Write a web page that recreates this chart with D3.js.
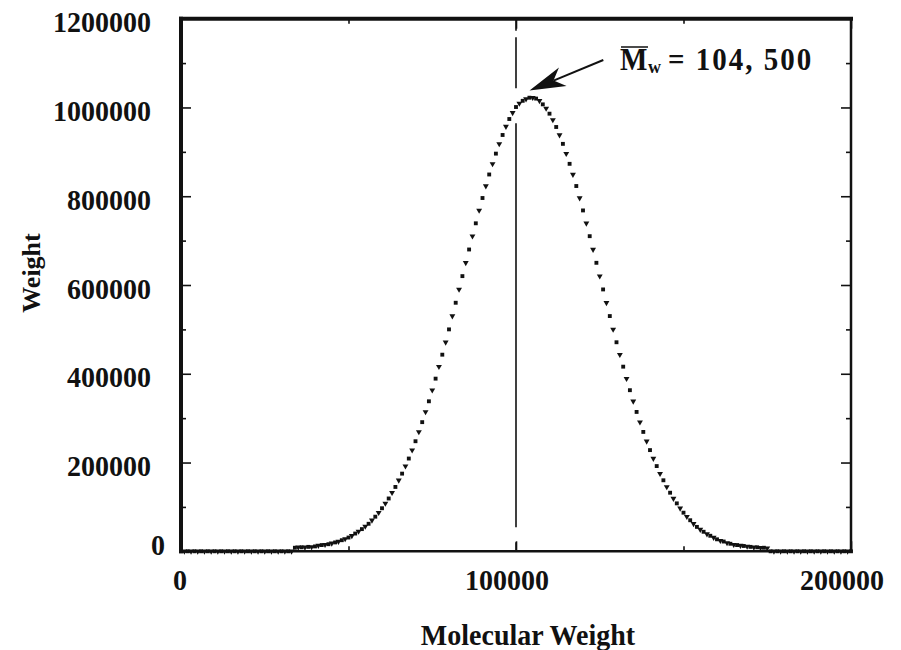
<!DOCTYPE html>
<html>
<head>
<meta charset="utf-8">
<script src="https://cdn.jsdelivr.net/npm/d3@7"></script>
<style>
  html, body { margin: 0; padding: 0; background: #fff; }
  svg text { font-family: "Liberation Serif", "Times New Roman", serif; font-weight: bold; fill: #111; }
</style>
</head>
<body>
<svg id="chart" width="901" height="650"></svg>
<script>
// molecular weight grid, one sample every 1000 g/mol
const molWeight = d3.range(0, 200001, 1000);

// weight for each sample (0 .. 200000)
const weight = [
  0, 0, 0, 0, 0, 0, 0, 0, 0, 0,
  0, 0, 0, 0, 0, 0, 0, 0, 0, 0,
  0, 0, 0, 0, 0, 0, 0, 0, 0, 0,
  0, 0, 0, 0,
  // 34000 .. 104000 (rising side)
  8000, 9000, 9000, 9000, 10000, 10000, 11000, 13000, 14000, 15000, 16000,
  18000, 20000, 22000, 25000, 28000, 31000, 35000, 40000, 45000, 50000,
  56000, 62000, 70000, 78000, 87000, 97000, 108000, 119000, 132000, 145000,
  160000, 175000, 192000, 209000, 228000, 248000, 269000, 291000, 314000, 338000,
  363000, 389000, 416000, 443000, 471000, 500000, 530000, 560000, 590000, 620000,
  650000, 680000, 710000, 739000, 768000, 796000, 823000, 849000, 873000, 896000,
  918000, 938000, 957000, 974000, 988000, 1001000, 1009000, 1015000, 1019000, 1022000,
  // 105000 .. 175000 (falling side)
  1022000, 1020000, 1015000, 1007000, 998000, 986000, 972000, 956000, 938000, 918000,
  896000, 873000, 849000, 823000, 796000, 768000, 739000, 710000, 680000, 650000,
  620000, 590000, 560000, 530000, 500000, 471000, 443000, 416000, 389000, 363000,
  338000, 314000, 291000, 269000, 248000, 228000, 209000, 192000, 175000, 160000,
  145000, 132000, 119000, 108000, 97000, 87000, 78000, 70000, 62000, 55000,
  49000, 44000, 39000, 35000, 31000, 27000, 24000, 22000, 19000, 17000,
  15000, 14000, 13000, 12000, 11000, 10000, 9000, 9000, 8000, 8000, 7000,
  // 176000 .. 200000
  0, 0, 0, 0, 0, 0, 0, 0, 0, 0,
  0, 0, 0, 0, 0, 0, 0, 0, 0, 0,
  0, 0, 0, 0, 0
];

const xMajor = [0, 100000, 200000];
const xMinor = [50000, 150000];
const yMajor = [0, 200000, 400000, 600000, 800000, 1000000, 1200000];
const yMinor = [100000, 300000, 500000, 700000, 900000, 1100000];

const markLine = 100000;   // vertical reference line
const mwLabel = "= 104, 500";

const data = molWeight.map((m, i) => ({ m, w: weight[i] }));

const svg = d3.select('#chart');
const plotLeft = 181, plotRight = 851, plotTop = 18.7, plotBottom = 551.3;

const x = d3.scaleLinear().domain([0, 200000]).range([plotLeft, plotRight]);
const y = d3.scaleLinear().domain([0, 1200000]).range([plotBottom, plotTop]);

// the original text is a little taller than wide
const stretch = 1.08;
function label(px, py, txt, size, anchor) {
  return svg.append('text')
    .attr('transform', `translate(${px},${py}) scale(1,${stretch})`)
    .attr('text-anchor', anchor)
    .style('font-size', size + 'px')
    .text(txt);
}

// inside ticks on all four sides
function ticks(axis, vals, len, tx, ty) {
  const g = svg.append('g')
    .attr('transform', `translate(${tx},${ty})`)
    .call(axis.tickValues(vals).tickSizeInner(-len).tickSizeOuter(0).tickFormat(''));
  g.select('.domain').remove();
  g.selectAll('line').attr('stroke', '#111').attr('stroke-width', 1.6);
}
ticks(d3.axisLeft(y), yMajor, 10, plotLeft, 0);
ticks(d3.axisLeft(y), yMinor, 5, plotLeft, 0);
ticks(d3.axisRight(y), yMajor, 10, plotRight, 0);
ticks(d3.axisRight(y), yMinor, 5, plotRight, 0);
ticks(d3.axisBottom(x), xMajor, 10, 0, plotBottom);
ticks(d3.axisBottom(x), xMinor, 5, 0, plotBottom);
ticks(d3.axisTop(x), xMajor, 10, 0, plotTop);
ticks(d3.axisTop(x), xMinor, 5, 0, plotTop);

// vertical line at 100000, broken like the original
svg.append('line')
  .attr('x1', x(markLine)).attr('x2', x(markLine))
  .attr('y1', plotTop).attr('y2', plotBottom)
  .attr('stroke', '#111').attr('stroke-width', 1.6)
  .attr('stroke-dasharray', '12,6.6,51,35,404,15,20');

// frame
const frame = svg.append('g').attr('stroke', '#111').attr('stroke-linecap', 'square');
frame.append('line').attr('x1', plotLeft).attr('x2', plotLeft).attr('y1', plotTop).attr('y2', plotBottom).attr('stroke-width', 4);
frame.append('line').attr('x1', plotLeft).attr('x2', plotRight).attr('y1', plotTop).attr('y2', plotTop).attr('stroke-width', 4);
frame.append('line').attr('x1', plotRight).attr('x2', plotRight).attr('y1', plotTop).attr('y2', plotBottom).attr('stroke-width', 2.5);
frame.append('line').attr('x1', plotLeft).attr('x2', plotRight).attr('y1', plotBottom).attr('y2', plotBottom).attr('stroke-width', 2.5);

// data markers: small squares and triangles
const square = d3.symbol().type(d3.symbolSquare).size(15);
const tri = d3.symbol().type(d3.symbolTriangle).size(15);
svg.append('g').selectAll('path')
  .data(data)
  .join('path')
  .attr('d', (d, i) => (i % 2 === 0 ? square() : tri()))
  .attr('transform', (d, i) => `translate(${x(d.m)},${y(d.w)})` + (i % 2 === 0 ? '' : ' rotate(180)'))
  .attr('fill', '#111');

// tick labels
yMajor.forEach(v => {
  if (v === 0) label(165, y(v) + 4, '0', 28, 'end');
  else label(151, y(v) + 13.5, String(v), 28, 'end');
});
xMajor.forEach(v => {
  label(x(v) + (v === 0 ? -1 : -9), 590, String(v), 28, 'middle');
});

// axis titles
label(528, 645, 'Molecular Weight', 28, 'middle');
svg.append('text')
  .attr('transform', 'translate(40,273) rotate(-90)')
  .attr('text-anchor', 'middle')
  .style('font-size', '26px')
  .text('Weight');

// annotation: Mw with overbar and arrow to the peak
label(620, 70, 'M', 29, 'start');
svg.append('line').attr('x1', 621).attr('x2', 648).attr('y1', 47).attr('y2', 47)
  .attr('stroke', '#111').attr('stroke-width', 1.5);
label(648, 73, 'w', 18, 'start');
label(668, 70, mwLabel, 29, 'start').style('letter-spacing', '2px');

const tip = [529.5, 90.5], tail = [603.3, 60];
const len = Math.hypot(tail[0] - tip[0], tail[1] - tip[1]);
const u = [(tip[0] - tail[0]) / len, (tip[1] - tail[1]) / len];
const p = [-u[1], u[0]];
const at = (back, side) => [tip[0] - back * u[0] + side * p[0], tip[1] - back * u[1] + side * p[1]];
const notch = at(26, 0);
svg.append('line')
  .attr('x1', tail[0]).attr('y1', tail[1]).attr('x2', notch[0]).attr('y2', notch[1])
  .attr('stroke', '#111').attr('stroke-width', 2);
svg.append('path')
  .attr('d', d3.line()([tip, at(36, 10), notch, at(36, -10)]) + 'Z')
  .attr('fill', '#111');
</script>
</body>
</html>
